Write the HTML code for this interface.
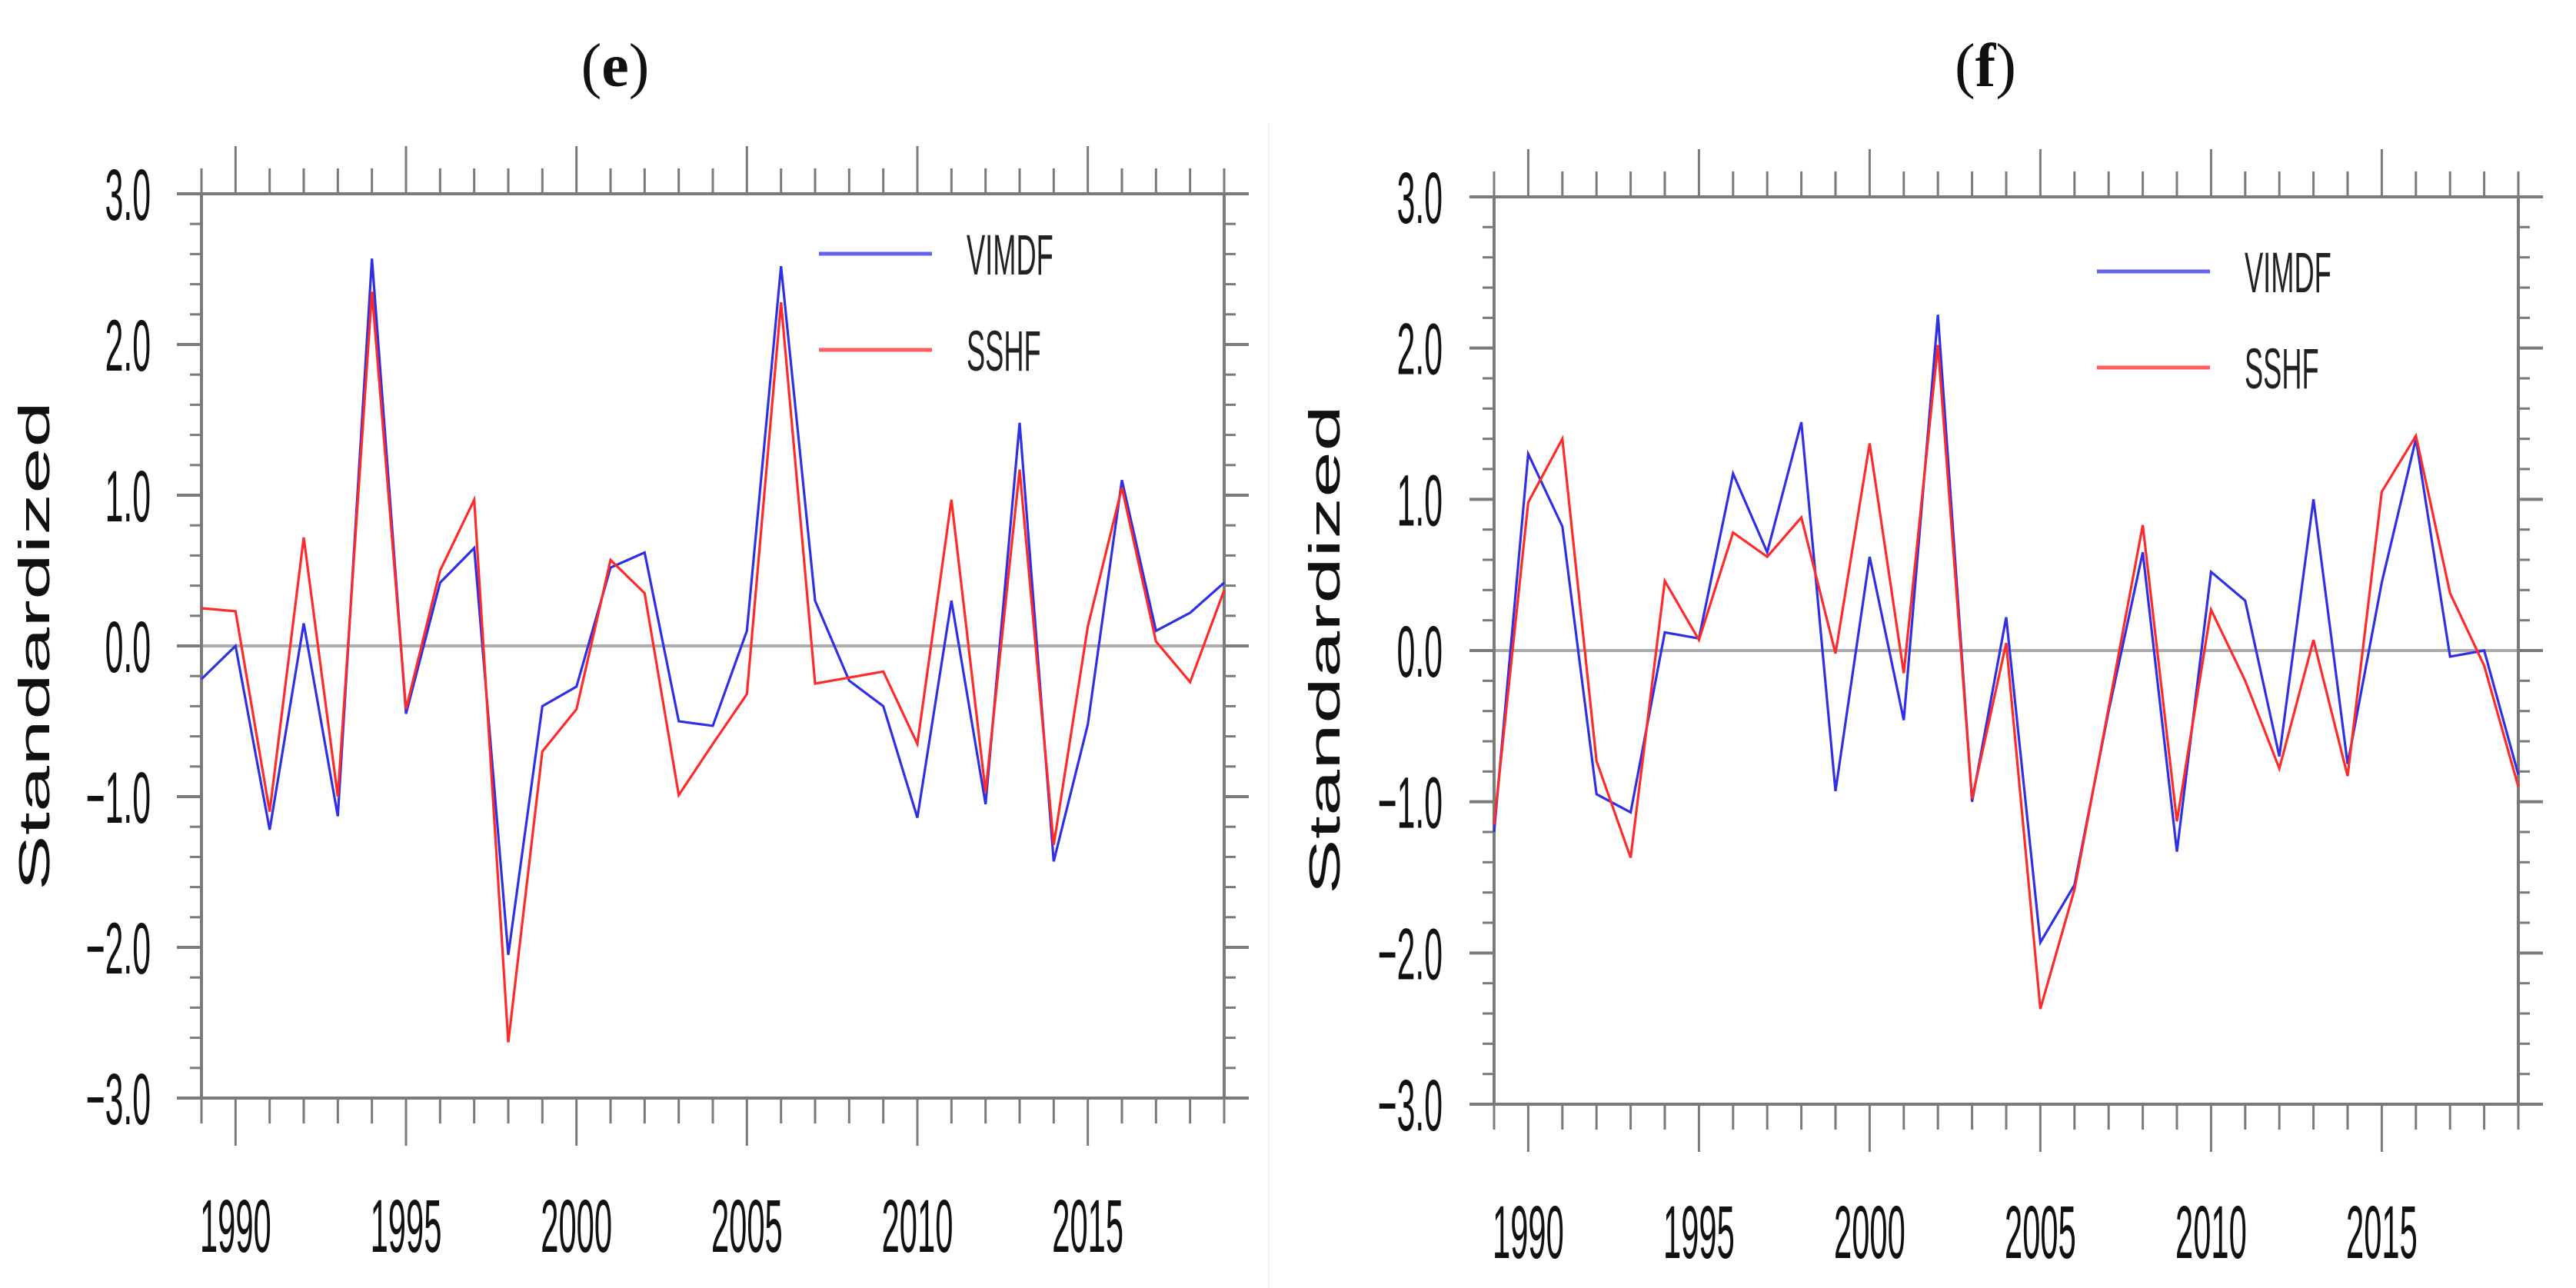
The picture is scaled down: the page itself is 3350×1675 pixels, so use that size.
<!DOCTYPE html>
<html><head><meta charset="utf-8"><style>
html,body{margin:0;padding:0;background:#fff;}
svg{display:block;}
</style></head><body>
<svg id="fig" width="3350" height="1675" viewBox="0 0 3350 1675" xmlns="http://www.w3.org/2000/svg">
<rect width="3350" height="1675" fill="#fff"/>
<line x1="1650" y1="160" x2="1650" y2="1675" stroke="#f2f2f2" stroke-width="2"/>
</svg>
<script>
const years = [1989,1990,1991,1992,1993,1994,1995,1996,1997,1998,1999,2000,2001,2002,2003,2004,2005,2006,2007,2008,2009,2010,2011,2012,2013,2014,2015,2016,2017,2018,2019];
const eVIMDF = [-0.22,0.0,-1.22,0.15,-1.13,2.57,-0.45,0.42,0.65,-2.05,-0.4,-0.27,0.52,0.62,-0.5,-0.53,0.1,2.52,0.3,-0.23,-0.4,-1.14,0.3,-1.05,1.48,-1.43,-0.52,1.1,0.1,0.22,0.42];
const eSSHF = [0.25,0.23,-1.1,0.72,-1.0,2.35,-0.42,0.5,0.97,-2.63,-0.7,-0.42,0.57,0.35,-0.99,-0.65,-0.32,2.28,-0.25,-0.21,-0.17,-0.65,0.97,-0.97,1.17,-1.32,0.13,1.05,0.03,-0.24,0.37];
const fVIMDF = [-1.2,1.3,0.82,-0.95,-1.07,0.12,0.08,1.17,0.65,1.51,-0.93,0.62,-0.46,2.22,-1.0,0.22,-1.93,-1.55,-0.4,0.65,-1.33,0.52,0.33,-0.7,1.0,-0.75,0.45,1.4,-0.04,0.0,-0.82];
const fSSHF = [-1.15,0.98,1.4,-0.73,-1.37,0.46,0.07,0.78,0.62,0.88,-0.02,1.37,-0.15,2.02,-0.98,0.05,-2.37,-1.58,-0.38,0.83,-1.13,0.27,-0.2,-0.78,0.07,-0.83,1.05,1.42,0.38,-0.1,-0.9];
const yTickVals = [3,2,1,0,-1,-2,-3];
const yTickLabels = ["3.0","2.0","1.0","0.0","\u22123.0".replace("3","1").replace("1.0","1.0"),"\u22122.0","\u22123.0"];
yTickLabels[4] = "\u22121.0";
const xTickVals = [1990,1995,2000,2005,2010,2015];
const seriesNames = ["VIMDF","SSHF"];

const NS = "http://www.w3.org/2000/svg";
const svg = document.getElementById('fig');
function mk(tag, attrs, parent){ const e=document.createElementNS(NS,tag); for(const k in attrs) e.setAttribute(k,attrs[k]); (parent||svg).appendChild(e); return e; }

function panel(opt){
  const g = mk('g',{});
  
  
  const X = yr => opt.L + (yr - 1989) * (opt.R - opt.L) / 30;
  const Y = v => opt.T + (3 - v) * (opt.B - opt.T) / 6;
  const axc = '#7a7a7a';
  // title
  const t = mk('text',{x:opt.titleX,y:112,'font-family':'Liberation Serif, serif','font-size':80,'text-anchor':'middle',fill:'#111'},g);
  
  
  t.innerHTML = '(<tspan font-weight="bold">' + opt.letter + '</tspan>)';
  // zero line
  const z = mk('line',{x1:opt.L,x2:opt.R,y1:Y(0),y2:Y(0),stroke:'#ababab','stroke-width':4},g);
  
  
  // y ticks
  for(let i=0;i<=30;i++){
    const v = 3 - i*0.2;
    const major = i%5===0;
    const len = major?32:15;
    mk('line',{x1:opt.L-len,x2:opt.L,y1:Y(v),y2:Y(v),stroke:axc,'stroke-width':major?4:3},g);
    mk('line',{x1:opt.R,x2:opt.R+len,y1:Y(v),y2:Y(v),stroke:axc,'stroke-width':major?4:3},g);
  }
  // x ticks
  for(let yr=1989; yr<=2019; yr++){
    const major = yr%5===0;
    const len = major?62:33;
    mk('line',{x1:X(yr),x2:X(yr),y1:opt.T-len,y2:opt.T,stroke:axc,'stroke-width':3},g);
    mk('line',{x1:X(yr),x2:X(yr),y1:opt.B,y2:opt.B+len,stroke:axc,'stroke-width':3},g);
  }
  // frame
  const fr = mk('rect',{x:opt.L,y:opt.T,width:opt.R-opt.L,height:opt.B-opt.T,fill:'none',stroke:axc,'stroke-width':4},g);
  
  
  // y labels
  yTickVals.forEach((v,i)=>{
    const tx = mk('text',{transform:`translate(${opt.ylabR},${Y(v)+34}) scale(0.45,1)`,'font-family':'Liberation Sans, sans-serif','font-size':95,'text-anchor':'end',fill:'#111'},g);
    
    
    tx.textContent = yTickLabels[i];
  });
  // x labels
  xTickVals.forEach(v=>{
    const tx = mk('text',{transform:`translate(${X(v)},${opt.xlabY}) scale(0.43,1)`,'font-family':'Liberation Sans, sans-serif','font-size':97,'text-anchor':'middle',fill:'#111'},g);
    
    
    tx.textContent = String(v);
  });
  // y axis title
  const yt = mk('text',{transform:`translate(${opt.ytX},${opt.ytY}) scale(1,1) rotate(-90) scale(1,0.52)`,'font-family':'Liberation Sans, sans-serif','font-size':108,'text-anchor':'middle',fill:'#111'},g);
  
  
  yt.textContent = 'Standardized';
  // series
  const cols = ['#2f2fe6','#ff2a2a'];
  [opt.s1, opt.s2].forEach((s,k)=>{
    const d = s.map((v,i)=>(i?'L':'M')+X(years[i]).toFixed(1)+','+Y(v).toFixed(1)).join(' ');
    const p = mk('path',{d:d,fill:'none',stroke:cols[k],'stroke-width':3.2,'stroke-linejoin':'miter'},g);
    
    
  });
  // legend
  seriesNames.forEach((n,k)=>{
    const ly = opt.legY + k*125;
    const ll = mk('line',{x1:opt.legX,x2:opt.legX+147,y1:ly,y2:ly,stroke:cols[k],'stroke-width':5,opacity:0.75},g);
    
    
    const lt = mk('text',{transform:`translate(${opt.legX+192},${ly+27}) scale(0.49,1)`,'font-family':'Liberation Sans, sans-serif','font-size':74,fill:'#222'},g);
    
    
    lt.textContent = n;
  });
}
panel({name:'panel-e',letter:'e',titleX:800,L:262,R:1592,T:252,B:1428,ylabR:196,xlabY:1628,ytX:64,ytY:840,legX:1065,legY:330,s1:eVIMDF,s2:eSSHF});
panel({name:'panel-f',letter:'f',titleX:2582,L:1943,R:3275,T:256,B:1436,ylabR:1876,xlabY:1636,ytX:1742,ytY:845,legX:2727,legY:353,s1:fVIMDF,s2:fSSHF});
</script>
</body></html>
